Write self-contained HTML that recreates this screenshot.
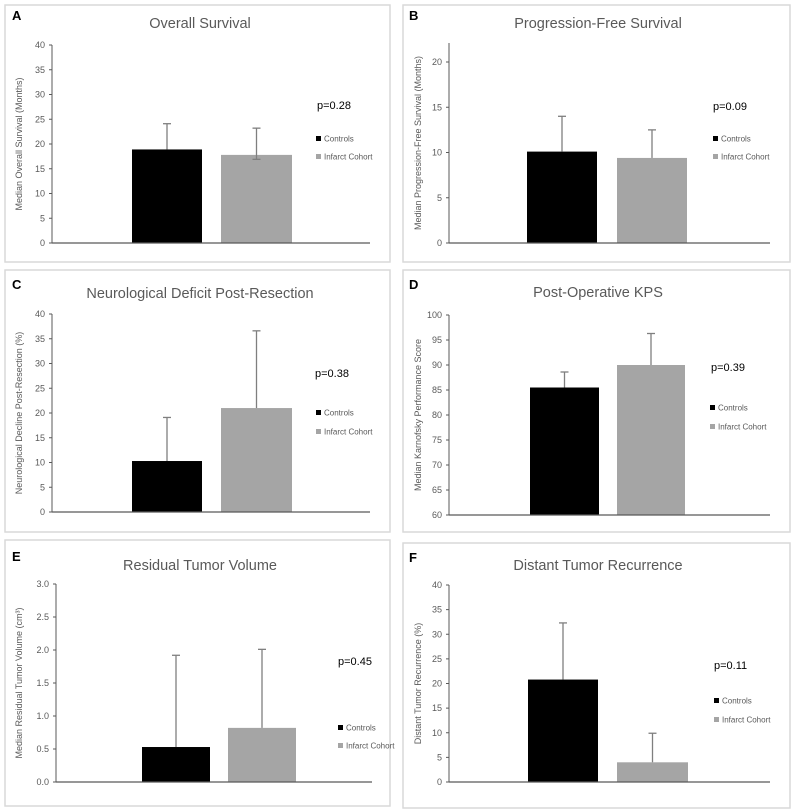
<!DOCTYPE html>
<html><head><meta charset="utf-8"><style>
body{margin:0;background:#fff;width:795px;height:812px;overflow:hidden;font-family:"Liberation Sans",sans-serif}
svg{position:absolute;left:0;top:0}
</style></head><body>
<svg id="fig" width="795" height="812" xmlns="http://www.w3.org/2000/svg"></svg>
<script>
const categories = ["Controls","Infarct Cohort"];
const titles = ["Overall Survival","Progression-Free Survival","Neurological Deficit Post-Resection","Post-Operative KPS","Residual Tumor Volume","Distant Tumor Recurrence"];
const letters = ["A","B","C","D","E","F"];
const yTitles = ["Median Overall Survival (Months)","Median Progression-Free Survival (Months)","Neurological Decline Post-Resection (%)","Median Karnofsky Performance Score","Median Residual Tumor Volume (cm³)","Distant Tumor Recurrence (%)"];
const pValues = ["p=0.28","p=0.09","p=0.38","p=0.39","p=0.45","p=0.11"];
const valuesA = [18.9, 17.8], errUpA = [24.1, 23.2], errLowA = [null, 16.9];
const valuesB = [10.1, 9.4], errUpB = [14.0, 12.5], errLowB = [null, null];
const valuesC = [10.3, 21.0], errUpC = [19.1, 36.6], errLowC = [null, null];
const valuesD = [85.5, 90.0], errUpD = [88.6, 96.3], errLowD = [null, null];
const valuesE = [0.53, 0.82], errUpE = [1.92, 2.01], errLowE = [null, null];
const valuesF = [20.8, 4.0], errUpF = [32.3, 9.9], errLowF = [null, null];
const ticksA = ["0","5","10","15","20","25","30","35","40"];
const ticksB = ["0","5","10","15","20"];
const ticksC = ["0","5","10","15","20","25","30","35","40"];
const ticksD = ["60","65","70","75","80","85","90","95","100"];
const ticksE = ["0.0","0.5","1.0","1.5","2.0","2.5","3.0"];
const ticksF = ["0","5","10","15","20","25","30","35","40"];

const layout = [
 {box:[5,5,385,257], ax:52, x1:370, y0:243, yTop:45, min:0, max:40, bars:[[132,202],[221,292]], title:[200,23], let:[12,20], p:[317,109], leg:[316,139,157], yt:22},
 {box:[403,5,387,257], ax:449, x1:770, y0:243, yTop:43, min:0, max:22.1, bars:[[527,597],[617,687]], title:[598,23], let:[409,20], p:[713,110], leg:[713,139,157], yt:421},
 {box:[5,270,385,262], ax:52, x1:370, y0:512, yTop:314, min:0, max:40, bars:[[132,202],[221,292]], title:[200,293], let:[12,289], p:[315,377], leg:[316,413,432], yt:22},
 {box:[403,270,387,262], ax:449, x1:770, y0:515, yTop:315, min:60, max:100, bars:[[530,599],[617,685]], title:[598,292], let:[409,289], p:[711,371], leg:[710,408,427], yt:421},
 {box:[5,540,385,266], ax:56, x1:372, y0:782, yTop:584, min:0, max:3, bars:[[142,210],[228,296]], title:[200,565], let:[12,561], p:[338,665], leg:[338,728,746], yt:22},
 {box:[403,543,387,265], ax:449, x1:770, y0:782, yTop:585, min:0, max:40, bars:[[528,598],[617,688]], title:[598,565], let:[409,562], p:[714,669], leg:[714,701,720], yt:421}
];
const vals=[valuesA,valuesB,valuesC,valuesD,valuesE,valuesF];
const ups=[errUpA,errUpB,errUpC,errUpD,errUpE,errUpF];
const lows=[errLowA,errLowB,errLowC,errLowD,errLowE,errLowF];
const ticks=[ticksA,ticksB,ticksC,ticksD,ticksE,ticksF];
const colors=["#000000","#a5a5a5"];
const svg=document.getElementById('fig');
const NS="http://www.w3.org/2000/svg";
function mk(tag,attrs,parent){const e=document.createElementNS(NS,tag);for(const k in attrs)e.setAttribute(k,attrs[k]);(parent||svg).appendChild(e);return e;}
layout.forEach((L,i)=>{
  const g=mk('g',{});
  
  
  const y=v=>L.y0-(v-L.min)/(L.max-L.min)*(L.y0-L.yTop);
  const b=mk('rect',{x:L.box[0],y:L.box[1],width:L.box[2],height:L.box[3],fill:'#fff',stroke:'#d9d9d9','stroke-width':1.5},g);
  
  
  const lt=mk('text',{x:L.let[0],y:L.let[1],'font-size':13,'font-weight':'bold',fill:'#000'},g);lt.textContent=letters[i];
  
  
  const t=mk('text',{x:L.title[0],y:L.title[1]+5,'font-size':14.5,fill:'#595959','text-anchor':'middle'},g);t.textContent=titles[i];
  
  
  vals[i].forEach((v,j)=>{
    const [xa,xb]=L.bars[j];
    const r=mk('rect',{x:xa,y:y(v),width:xb-xa,height:L.y0-y(v),fill:colors[j]},g);
    
    
    const cx=(xa+xb)/2;
    const eg=mk('g',{stroke:'#7f7f7f','stroke-width':1.3},g);
    
    
    const lo=lows[i][j]!=null?lows[i][j]:v;
    mk('line',{x1:cx,x2:cx,y1:y(ups[i][j]),y2:y(lo)},eg);
    mk('line',{x1:cx-4,x2:cx+4,y1:y(ups[i][j]),y2:y(ups[i][j])},eg);
    if(lows[i][j]!=null) mk('line',{x1:cx-4,x2:cx+4,y1:y(lo),y2:y(lo)},eg);
  });
  const ya=mk('line',{x1:L.ax,x2:L.ax,y1:L.yTop,y2:L.y0,stroke:'#595959','stroke-width':1},g);
  
  
  const xa=mk('line',{x1:L.ax,x2:L.x1,y1:L.y0,y2:L.y0,stroke:'#595959','stroke-width':1.2},g);
  
  
  ticks[i].forEach(tk=>{
    const yy=y(parseFloat(tk));
    mk('line',{x1:L.ax-3,x2:L.ax,y1:yy,y2:yy,stroke:'#595959'},g);
    const tl=mk('text',{x:L.ax-7,y:yy+3,'font-size':9,fill:'#595959','text-anchor':'end'},g);tl.textContent=tk;
    
    
  });
  const cy=(L.y0+L.yTop)/2;
  const yt=mk('text',{x:L.yt,y:cy,'font-size':9,fill:'#595959','text-anchor':'middle',transform:`rotate(-90 ${L.yt} ${cy})`},g);yt.textContent=yTitles[i];
  
  
  const p=mk('text',{x:L.p[0],y:L.p[1],'font-size':11,fill:'#000'},g);p.textContent=pValues[i];
  
  
  categories.forEach((c,j)=>{
    const ly=L.leg[1+j];
    const le=mk('g',{},g);
    
    
    mk('rect',{x:L.leg[0],y:ly-3,width:5,height:5,fill:colors[j]},le);
    const tx=mk('text',{x:L.leg[0]+8,y:ly+2.5,'font-size':8,fill:'#595959'},le);tx.textContent=c;
  });
});
</script>
</body></html>
